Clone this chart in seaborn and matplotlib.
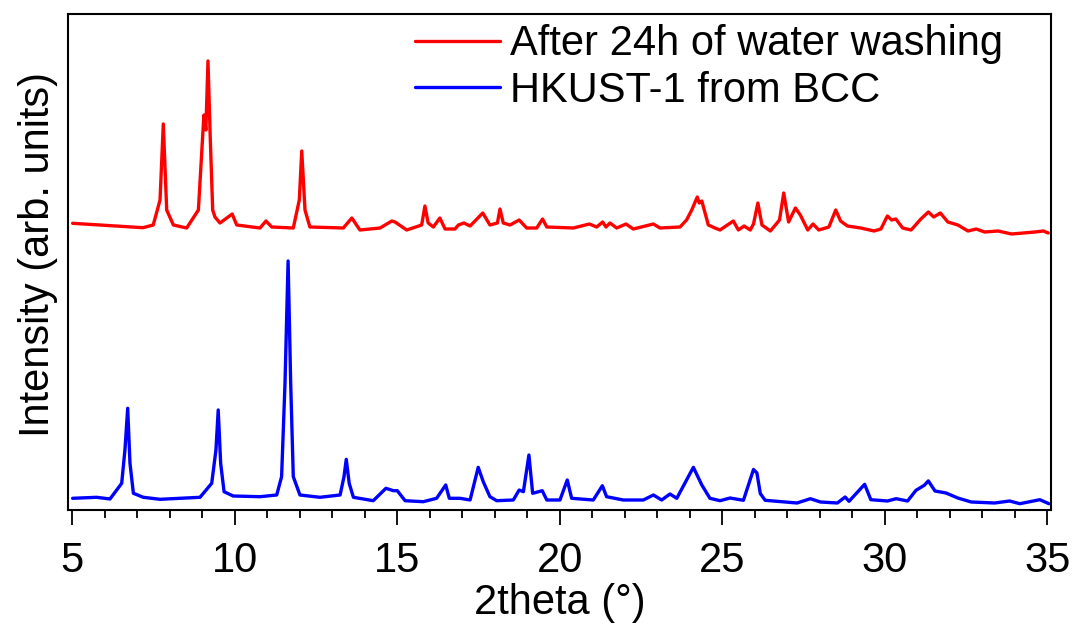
import numpy as np
import pandas as pd
import matplotlib
matplotlib.use("Agg")
import matplotlib.pyplot as plt
import seaborn as sns
from matplotlib.ticker import MultipleLocator

# ---- data (2theta in degrees, intensity in arb. units) ----
red_label = "After 24h of water washing"
blue_label = "HKUST-1 from BCC"

red_2theta = [5.01, 7.175, 7.49, 7.70, 7.80, 7.905, 8.11, 8.52, 8.88, 9.01, 9.05, 9.11,
              9.175, 9.24, 9.32, 9.39, 9.545, 9.92, 10.06, 10.775, 10.96, 11.135, 11.80,
              11.985, 12.06, 12.16, 12.31, 13.34, 13.60, 13.85, 14.47, 14.83, 14.93, 15.29,
              15.75, 15.85, 15.95, 16.11, 16.31, 16.47, 16.775, 16.88, 17.05, 17.24, 17.63,
              17.85, 18.08, 18.16, 18.26, 18.47, 18.75, 18.98, 19.29, 19.47, 19.60, 20.415,
              20.91, 21.135, 21.32, 21.42, 21.545, 21.75, 22.04, 22.26, 22.88, 23.08, 23.70,
              23.90, 24.06, 24.23, 24.29, 24.37, 24.47, 24.57, 24.775, 24.93, 25.34, 25.495,
              25.67, 25.86, 25.96, 26.095, 26.22, 26.48, 26.76, 26.89, 27.04, 27.25, 27.40,
              27.63, 27.79, 27.97, 28.28, 28.49, 28.64, 28.85, 29.26, 29.67, 29.88, 30.08,
              30.21, 30.34, 30.55, 30.81, 31.11, 31.34, 31.505, 31.71, 31.94, 32.25, 32.56,
              32.815, 33.07, 33.485, 33.90, 34.62, 34.88, 35.03]
red_intensity = [286.7, 282.3, 285, 310, 386, 300, 285, 282, 300, 373, 395, 380,
                 449, 377, 300, 293, 287, 296, 285, 282, 289, 283, 282,
                 310, 359, 300, 283, 282, 292, 280, 282, 289, 288, 280,
                 285, 304, 287, 283, 292, 281, 281, 285, 287, 284, 297,
                 285, 287, 301, 287, 285, 290, 282, 282, 291, 283, 282,
                 286, 283, 288, 283, 287, 282, 286, 281, 286, 282, 283,
                 290, 300, 313, 307, 309, 297, 285, 282, 280, 289, 280,
                 284, 280, 286, 307, 285, 279, 290, 317, 288, 302, 295,
                 280, 286, 280, 283, 300, 289, 284, 282, 279, 281, 294,
                 290, 291, 282, 280, 291, 298, 293, 297, 288, 285, 279,
                 281, 278, 279, 276, 278, 279, 277]

blue_2theta = [5.01, 5.75, 6.16, 6.52, 6.62, 6.705, 6.775, 6.88, 7.185, 7.70, 8.93, 9.29,
               9.42, 9.49, 9.565, 9.67, 9.95, 10.775, 11.29, 11.44, 11.545, 11.64, 11.72,
               11.80, 12.005, 12.62, 13.24, 13.36, 13.43, 13.52, 13.65, 14.26, 14.65, 14.88,
               15.00, 15.24, 15.80, 16.21, 16.49, 16.60, 16.93, 17.24, 17.49, 17.645, 17.85,
               18.06, 18.57, 18.75, 18.88, 19.05, 19.165, 19.46, 19.60, 20.005, 20.23, 20.365,
               21.03, 21.31, 21.44, 21.955, 22.57, 22.88, 23.135, 23.39, 23.60, 24.11, 24.37,
               24.62, 24.93, 25.24, 25.65, 25.96, 26.065, 26.17, 26.32, 27.30, 27.71, 28.02,
               28.54, 28.78, 28.90, 29.38, 29.57, 30.08, 30.35, 30.70, 30.96, 31.215, 31.34,
               31.545, 31.885, 32.245, 32.66, 33.38, 33.84, 34.155, 34.77, 35.05]
blue_intensity = [11.7, 12.7, 11, 26.7, 60, 101.7, 46.7, 16.7, 12.7, 10.7, 12.7, 26.7,
                  60, 100, 46.7, 18.3, 14, 13.3, 15, 33.3, 126.7, 249, 126.7,
                  33.3, 15, 12.7, 15, 33.3, 50.7, 26.7, 12.7, 9.3, 21.7, 19.3,
                  19.3, 9.3, 8.3, 11.7, 25, 11.7, 11.7, 10, 42.7, 28.3, 13.3,
                  9.3, 10, 20, 18.3, 55, 16.7, 19.3, 10, 10, 30, 11.7,
                  10, 24.3, 13.3, 10, 10, 15, 10, 16, 11.7, 42.7, 25,
                  11.7, 9.3, 12, 9.7, 40.5, 37.1, 16.4, 9.7, 7, 11.3, 8,
                  7, 13, 8.7, 25.7, 10.3, 9, 11.3, 9, 19.7, 24.7, 29.1,
                  19, 17, 12, 8, 7, 9, 6.3, 10.3, 6.3]

x_ticks = [5, 10, 15, 20, 25, 30, 35]

df_red = pd.DataFrame({"2theta": red_2theta, "I": red_intensity})
df_blue = pd.DataFrame({"2theta": blue_2theta, "I": blue_intensity})

sns.set_theme(style="ticks")
plt.rcParams["font.family"] = ["Liberation Sans", "DejaVu Sans"]
plt.rcParams["text.color"] = "black"
plt.rcParams["axes.labelcolor"] = "black"
plt.rcParams["xtick.color"] = "black"
plt.rcParams["ytick.color"] = "black"

fig = plt.figure(figsize=(10.73, 6.30), dpi=100)
ax = fig.add_axes([68 / 1073, 120 / 630, 983 / 1073, 496 / 630])

sns.lineplot(data=df_red, x="2theta", y="I", ax=ax, color="#ff0000", lw=2.4,
             label=red_label, estimator=None, sort=False)
sns.lineplot(data=df_blue, x="2theta", y="I", ax=ax, color="#0000ff", lw=2.4,
             label=blue_label, estimator=None, sort=False)

ax.set_xlim(4.868, 35.114)
ax.set_ylim(0, 496)
ax.set_xticks(x_ticks)
ax.set_xticklabels([str(t) for t in x_ticks])
ax.xaxis.set_minor_locator(MultipleLocator(1))
ax.set_yticks([])
ax.tick_params(axis="x", which="major", direction="out", length=11, width=1.3,
               labelsize=30, pad=11, colors="black", labelcolor="black")
ax.tick_params(axis="x", which="minor", direction="out", length=6, width=1.3, colors="black")

for s in ax.spines.values():
    s.set_visible(True)
    s.set_linewidth(1.5)
    s.set_color("black")

ax.set_xlabel("2theta (°)", fontsize=30, labelpad=2, color="black")
ax.set_ylabel("Intensity (arb. units)", fontsize=30, labelpad=7, color="black")
ax.yaxis.label.set_y(0.516)

leg = ax.legend(loc="upper left", bbox_to_anchor=(0.353, 0.979), frameon=False,
                fontsize=30, handlelength=2.04, handletextpad=0.25, labelspacing=0.15,
                borderpad=0, borderaxespad=0)
for line in leg.get_lines():
    line.set_linewidth(2.4)
for t in leg.get_texts():
    t.set_color("black")

fig.savefig("out.png", dpi=100, facecolor="white")
